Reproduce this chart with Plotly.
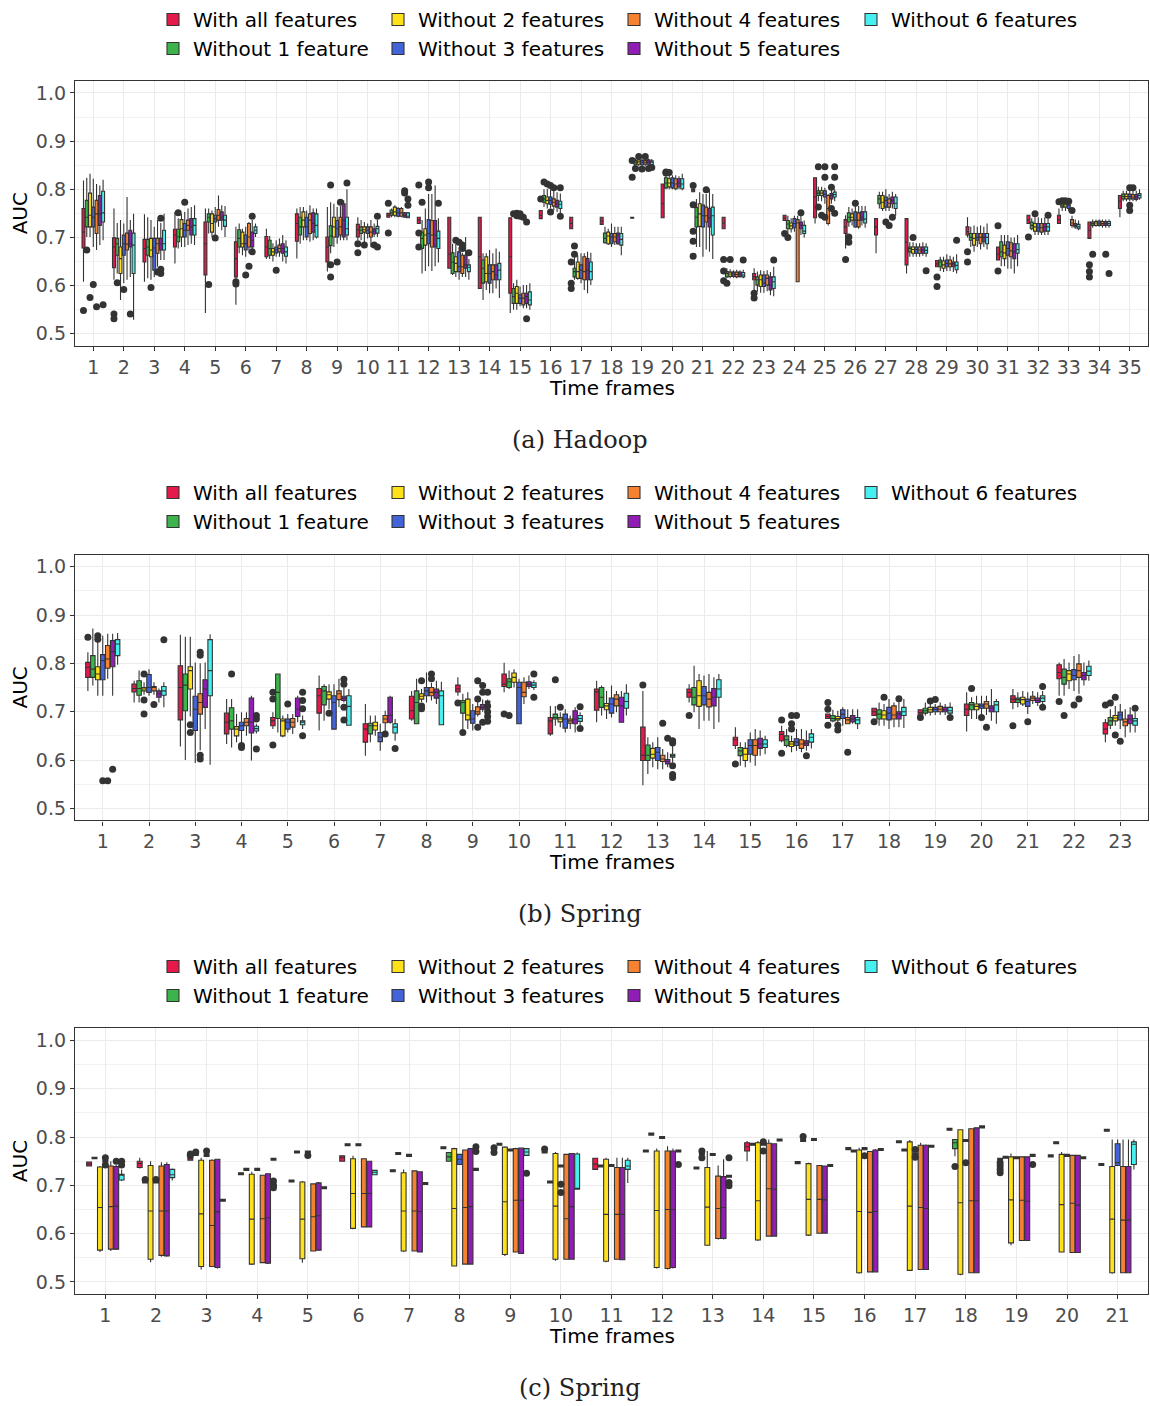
import plotly.graph_objects as go

W, H = 1150, 1406
FONT = "DejaVu Sans"
EDGE = "#333333"
GRID = "#EBEBEB"

SERIES = ["With all features", "Without 1 feature", "Without 2 features", "Without 3 features",
          "Without 4 features", "Without 5 features", "Without 6 features"]
COLORS = ["#E6194B", "#3CB44B", "#FFE119", "#4363D8", "#F58231", "#911EB4", "#46F0F0"]
# legend laid out in columns: (all, 1) (2, 3) (4, 5) (6)
LEGEND_COLUMN = [0, 0, 1, 1, 2, 2, 3]
LEGEND_TEXT_X = [193, 418, 654, 891]

Y_TICKS = [0.5, 0.6, 0.7, 0.8, 0.9, 1.0]
Y_MINOR = [0.55, 0.65, 0.75, 0.85, 0.95]

# One row per time frame, one tuple per series: (lower whisker, Q1, median, Q3, upper whisker)
HADOOP_BOXES = [
    [(.608,.678,.711,.760,.818),(.701,.722,.742,.777,.824),(.701,.722,.746,.792,.832),(.680,.722,.742,.763,.822),(.674,.708,.749,.777,.811),(.684,.725,.749,.787,.808),(.694,.732,.751,.796,.820)],
    [(.612,.637,.680,.699,.760),(.625,.663,.687,.698,.730),(.570,.625,.656,.680,.736),(.605,.663,.687,.705,.729),(.612,.674,.686,.709,.784),(.618,.680,.687,.715,.736),(.529,.625,.684,.709,.749)],
    [(.608,.649,.677,.696,.748),(.615,.663,.680,.696,.742),(.612,.660,.674,.698,.736),(.618,.632,.678,.698,.722),(.639,.667,.687,.698,.736),(.653,.674,.687,.698,.730),(.653,.674,.687,.715,.749)],
    [(.646,.680,.705,.717,.753),(.677,.691,.701,.717,.740),(.680,.701,.718,.737,.749),(.680,.701,.715,.729,.753),(.684,.715,.725,.736,.760),(.687,.705,.722,.739,.763),(.684,.705,.725,.739,.767)],
    [(.543,.622,.687,.732,.760),(.708,.732,.742,.749,.760),(.701,.711,.729,.749,.756),(.705,.732,.739,.746,.763),(.722,.736,.746,.758,.787),(.715,.736,.742,.753,.767),(.701,.723,.736,.746,.765)],
    [(.560,.618,.656,.691,.722),(.667,.680,.698,.716,.729),(.663,.680,.687,.711,.718),(.660,.674,.687,.705,.722),(.667,.680,.701,.729,.732),(.674,.680,.694,.711,.736),(.701,.708,.715,.722,.729)],
    [(.655,.660,.680,.702,.718),(.655,.663,.677,.694,.703),(.650,.663,.670,.677,.688),(.660,.668,.674,.680,.694),(.660,.670,.677,.684,.698),(.650,.667,.677,.687,.705),(.646,.661,.670,.680,.694)],
    [(.656,.692,.729,.749,.760),(.687,.705,.722,.742,.763),(.694,.722,.736,.753,.763),(.694,.701,.722,.742,.756),(.691,.708,.736,.749,.767),(.694,.711,.729,.751,.760),(.698,.701,.725,.749,.760)],
    [(.629,.649,.680,.701,.763),(.667,.683,.703,.724,.773),(.680,.701,.722,.742,.770),(.687,.701,.718,.735,.763),(.694,.705,.722,.742,.765),(.694,.701,.736,.770,.777),(.694,.705,.718,.742,.800)],
    [(.694,.701,.716,.727,.742),(.694,.708,.715,.722,.736),(.687,.711,.716,.722,.732),(.698,.708,.715,.722,.729),(.680,.701,.711,.722,.736),(.701,.707,.713,.718,.729),(.701,.709,.718,.723,.736)],
    [(.742,.742,.746,.750,.750),(.742,.746,.751,.757,.760),(.742,.746,.753,.763,.767),(.742,.744,.751,.760,.763),(.742,.744,.751,.760,.763),(.741,.742,.746,.751,.753),(.740,.741,.744,.751,.753)],
    [(.729,.729,.736,.742,.742),(.625,.677,.698,.711,.736),(.630,.684,.705,.718,.760),(.640,.687,.708,.737,.790),(.630,.680,.705,.735,.790),(.640,.680,.705,.735,.808),(.648,.677,.698,.713,.740)],
    [(.636,.636,.665,.742,.742),(.622,.625,.649,.668,.687),(.618,.629,.646,.660,.687),(.612,.629,.639,.670,.680),(.618,.625,.639,.663,.668),(.618,.636,.643,.663,.701),(.612,.629,.638,.643,.655)],
    [(.594,.594,.660,.742,.742),(.570,.605,.636,.653,.667),(.591,.608,.625,.660,.667),(.584,.605,.625,.643,.674),(.584,.612,.629,.643,.667),(.594,.612,.622,.643,.677),(.574,.612,.632,.646,.670)],
    [(.543,.584,.660,.741,.741),(.550,.563,.577,.594,.605),(.550,.563,.584,.598,.612),(.557,.563,.574,.581,.598),(.553,.560,.574,.584,.601),(.553,.563,.577,.584,.601),(.550,.560,.570,.587,.605)],
    [(.739,.739,.746,.756,.756),(.763,.773,.780,.787,.800),(.760,.770,.777,.784,.801),(.760,.769,.777,.784,.800),(.756,.765,.773,.780,.798),(.753,.763,.770,.777,.794),(.749,.760,.769,.775,.791)],
    [(.718,.718,.729,.742,.742),(.612,.618,.629,.636,.660),(.612,.615,.629,.649,.663),(.605,.615,.632,.643,.667),(.591,.612,.629,.660,.667),(.584,.612,.632,.656,.670),(.601,.612,.629,.649,.668)],
    [(.727,.727,.734,.742,.742),(.687,.689,.698,.709,.722),(.684,.687,.703,.711,.718),(.680,.687,.701,.708,.729),(.684,.691,.701,.708,.722),(.684,.687,.705,.709,.722),(.663,.684,.696,.708,.722)],
    [(.740,.740,.741,.742,.742),(.848,.851,.855,.860,.864),(.848,.852,.857,.861,.864),(.848,.851,.856,.860,.863),(.848,.852,.856,.860,.864),(.849,.852,.857,.861,.864),(.848,.851,.856,.859,.863)],
    [(.741,.741,.770,.811,.811),(.800,.803,.813,.824,.829),(.800,.805,.813,.822,.829),(.800,.803,.813,.824,.829),(.798,.801,.811,.822,.829),(.800,.805,.813,.822,.827),(.798,.801,.811,.822,.832)],
    [(.795,.795,.798,.800,.800),(.680,.722,.742,.762,.780),(.680,.723,.749,.770,.794),(.660,.722,.745,.767,.790),(.675,.732,.745,.763,.790),(.670,.722,.740,.760,.800),(.655,.705,.745,.763,.790)],
    [(.718,.718,.730,.742,.742),(.615,.618,.625,.629,.636),(.615,.619,.624,.628,.634),(.616,.619,.624,.628,.632),(.615,.618,.623,.628,.633),(.616,.619,.624,.628,.632),(.615,.618,.622,.627,.633)],
    [(.591,.612,.618,.625,.636),(.587,.601,.612,.618,.629),(.585,.598,.612,.622,.632),(.585,.598,.605,.622,.630),(.588,.601,.615,.622,.632),(.580,.591,.601,.618,.628),(.578,.594,.608,.618,.639)],
    [(.735,.735,.740,.746,.746),(.705,.718,.728,.735,.745),(.710,.718,.724,.730,.740),(.712,.720,.729,.739,.745),(.608,.608,.730,.737,.745),(.705,.718,.725,.732,.745),(.700,.708,.713,.725,.735)],
    [(.729,.741,.784,.824,.824),(.775,.787,.792,.797,.805),(.775,.787,.792,.797,.805),(.770,.784,.790,.797,.803),(.725,.729,.760,.787,.790),(.770,.780,.787,.791,.800),(.775,.784,.789,.794,.800)],
    [(.677,.708,.722,.737,.746),(.722,.732,.742,.751,.763),(.725,.736,.742,.749,.760),(.720,.722,.736,.753,.765),(.718,.722,.736,.751,.765),(.725,.736,.742,.753,.765),(.720,.730,.738,.753,.765)],
    [(.667,.705,.722,.739,.739),(.760,.770,.780,.787,.795),(.755,.760,.773,.787,.795),(.755,.763,.777,.784,.800),(.755,.763,.771,.780,.790),(.760,.770,.777,.784,.795),(.745,.760,.771,.784,.790)],
    [(.625,.643,.690,.739,.739),(.660,.670,.677,.680,.690),(.660,.667,.675,.680,.690),(.660,.667,.675,.680,.688),(.660,.667,.674,.680,.688),(.662,.667,.674,.680,.690),(.660,.667,.673,.680,.688)],
    [(.639,.639,.645,.652,.652),(.630,.639,.649,.653,.660),(.628,.636,.643,.651,.660),(.630,.639,.646,.653,.665),(.630,.639,.645,.653,.662),(.628,.639,.645,.649,.660),(.625,.633,.642,.649,.665)],
    [(.700,.705,.712,.722,.742),(.680,.694,.700,.708,.722),(.670,.684,.698,.708,.725),(.680,.694,.700,.708,.722),(.675,.687,.700,.708,.725),(.680,.691,.700,.708,.722),(.675,.687,.700,.708,.729)],
    [(.653,.653,.665,.680,.680),(.640,.660,.670,.691,.705),(.640,.656,.668,.684,.705),(.635,.663,.677,.691,.705),(.635,.660,.672,.689,.700),(.625,.656,.670,.687,.700),(.640,.667,.675,.687,.705)],
    [(.729,.729,.737,.746,.746),(.715,.718,.725,.732,.740),(.705,.713,.722,.729,.742),(.705,.713,.720,.729,.742),(.705,.711,.720,.729,.740),(.705,.713,.722,.729,.742),(.705,.713,.722,.729,.740)],
    [(.729,.729,.737,.746,.760),(.755,.763,.767,.771,.771),(.755,.763,.768,.772,.772),(.755,.760,.767,.770,.770),(.720,.725,.730,.737,.745),(.718,.722,.725,.729,.737),(.715,.718,.722,.727,.735)],
    [(.698,.698,.715,.732,.732),(.720,.725,.729,.732,.737),(.722,.725,.730,.733,.737),(.722,.725,.730,.734,.737),(.720,.725,.729,.733,.737),(.720,.725,.729,.733,.737),(.720,.725,.729,.733,.737)],
    [(.742,.760,.775,.787,.787),(.775,.780,.785,.790,.797),(.775,.780,.785,.790,.797),(.775,.780,.785,.790,.797),(.775,.780,.784,.789,.797),(.775,.779,.784,.789,.797),(.778,.782,.787,.791,.800)],
]

# Outlying runs: (time frame, series index, AUC)
HADOOP_OUTLIERS = [
    (1,0,.548),(1,1,.674),(1,2,.575),(1,3,.602),(1,4,.556),(1,6,.560),
    (2,0,.541),(2,0,.531),(2,1,.606),(2,3,.592),(2,5,.541),
    (3,2,.596),(3,4,.628),(3,5,.740),(3,5,.634),(3,5,.625),
    (4,1,.751),(4,3,.773),
    (5,1,.602),(5,3,.699),
    (6,0,.608),(6,0,.603),(6,3,.622),(6,4,.640),(6,5,.744),(6,5,.670),
    (7,3,.632),
    (9,1,.809),(9,1,.643),(9,1,.618),(9,3,.649),(9,4,.773),(9,6,.813),
    (10,0,.687),(10,0,.668),(10,2,.684),(10,5,.684),(10,6,.744),(10,6,.680),
    (11,0,.771),(11,0,.709),(11,5,.797),(11,5,.792),(11,6,.780),(11,6,.767),
    (12,0,.809),(12,0,.709),(12,0,.680),(12,1,.773),(12,3,.803),(12,3,.815),(12,6,.771),
    (13,2,.694),(13,3,.690),(13,4,.684),(13,4,.677),(13,6,.668),
    (15,1,.749),(15,2,.750),(15,2,.745),(15,3,.749),(15,3,.744),(15,4,.742),(15,5,.732),(15,5,.531),
    (16,0,.780),(16,1,.815),(16,2,.811),(16,3,.808),(16,3,.753),(16,4,.803),(16,6,.744),(16,6,.803),
    (17,0,.649),(17,0,.605),(17,0,.594),(17,1,.682),(17,1,.665),
    (19,0,.825),(19,0,.860),(19,1,.843),(19,2,.868),(19,3,.842),(19,4,.868),(19,5,.843),(19,6,.845),
    (20,1,.836),(20,1,.834),(20,2,.835),
    (21,0,.808),(21,0,.768),(21,0,.713),(21,0,.692),(21,0,.661),(21,4,.799),
    (22,0,.654),(22,0,.630),(22,0,.610),(22,1,.605),(22,2,.654),(22,6,.653),
    (23,0,.584),(23,0,.574),(23,6,.653),
    (24,0,.708),(24,1,.700),(24,5,.751),
    (25,1,.847),(25,1,.763),(25,2,.746),(25,3,.847),(25,3,.825),(25,3,.742),(25,5,.804),(25,5,.760),(25,6,.847),(25,6,.825),(25,6,.750),
    (26,0,.654),(26,1,.701),(26,1,.690),(26,3,.771),
    (27,3,.732),(27,4,.725),(27,5,.742),
    (28,2,.700),(28,6,.631),
    (29,0,.618),(29,0,.598),(29,6,.694),
    (30,0,.670),(30,0,.649),
    (31,0,.724),(31,0,.630),
    (32,0,.701),(32,2,.749),(32,6,.746),
    (33,0,.774),(33,1,.776),(33,2,.776),(33,3,.775),(33,4,.756),
    (34,0,.643),(34,0,.629),(34,0,.618),(34,1,.665),(34,5,.665),(34,6,.625),
    (35,3,.803),(35,3,.767),(35,3,.756),(35,4,.803),
]

SPRING_B_BOXES = [
    [(.743,.771,.792,.802,.823),(.754,.771,.788,.816,.872),(.733,.766,.778,.793,.845),(.733,.766,.806,.818,.857),(.768,.790,.809,.837,.861),(.733,.793,.824,.847,.861),(.797,.816,.840,.849,.863)],
    [(.719,.741,.748,.757,.764),(.719,.734,.748,.764,.785),(.735,.743,.747,.750,.761),(.733,.740,.750,.777,.788),(.735,.743,.750,.752,.761),(.719,.730,.737,.743,.748),(.709,.734,.743,.752,.761)],
    [(.628,.683,.750,.795,.859),(.600,.702,.755,.778,.855),(.690,.747,.785,.793,.855),(.594,.661,.705,.732,.802),(.620,.695,.719,.737,.800),(.664,.709,.747,.766,.802),(.590,.733,.785,.849,.860)],
    [(.633,.654,.678,.697,.726),(.626,.664,.681,.708,.726),(.637,.650,.664,.669,.695),(.633,.661,.671,.678,.699),(.650,.671,.678,.686,.699),(.599,.656,.678,.728,.733),(.655,.660,.665,.670,.675)],
    [(.664,.671,.681,.688,.699),(.657,.686,.740,.778,.778),(.647,.650,.681,.685,.692),(.657,.664,.678,.685,.695),(.654,.668,.678,.686,.695),(.678,.690,.705,.728,.733),(.664,.673,.678,.681,.692)],
    [(.661,.697,.733,.748,.775),(.681,.714,.743,.752,.757),(.705,.726,.735,.741,.757),(.664,.664,.719,.733,.757),(.709,.725,.737,.743,.768),(.719,.723,.728,.732,.750),(.671,.672,.711,.733,.747)],
    [(.609,.637,.664,.675,.716),(.637,.654,.671,.676,.692),(.650,.662,.671,.678,.692),(.619,.638,.647,.657,.675),(.657,.677,.685,.692,.702),(.675,.678,.692,.730,.733),(.640,.656,.668,.675,.685)],
    [(.681,.685,.702,.732,.743),(.675,.675,.719,.743,.768),(.720,.726,.732,.737,.747),(.719,.733,.743,.750,.781),(.723,.733,.740,.750,.760),(.716,.728,.740,.747,.764),(.673,.673,.733,.743,.762)],
    [(.733,.741,.747,.755,.771),(.664,.697,.719,.723,.737),(.664,.683,.693,.726,.740),(.661,.676,.685,.702,.716),(.690,.695,.700,.710,.720),(.700,.705,.709,.715,.725),(.715,.718,.720,.722,.725)],
    [(.740,.752,.757,.778,.801),(.747,.750,.762,.768,.785),(.750,.761,.771,.780,.788),(.675,.675,.750,.761,.768),(.716,.731,.740,.761,.771),(.747,.752,.757,.762,.775),(.745,.750,.755,.760,.765)],
    [(.650,.654,.681,.688,.712),(.671,.685,.688,.695,.712),(.668,.679,.685,.688,.699),(.657,.666,.685,.695,.705),(.664,.676,.681,.685,.692),(.657,.675,.685,.702,.709),(.672,.680,.686,.692,.699)],
    [(.678,.703,.741,.747,.764),(.692,.709,.730,.750,.754),(.685,.704,.712,.717,.743),(.688,.697,.716,.728,.754),(.699,.712,.726,.735,.743),(.678,.678,.712,.730,.743),(.692,.707,.721,.738,.757)],
    [(.548,.599,.610,.668,.743),(.571,.599,.610,.631,.647),(.585,.604,.612,.624,.637),(.581,.599,.616,.626,.647),(.581,.597,.602,.610,.623),(.585,.592,.597,.601,.616),(.595,.606,.609,.612,.630)],
    [(.719,.730,.740,.747,.757),(.699,.714,.730,.750,.795),(.664,.711,.733,.764,.778),(.681,.714,.733,.752,.775),(.681,.710,.726,.740,.778),(.664,.712,.730,.748,.771),(.678,.730,.747,.766,.778)],
    [(.623,.630,.642,.647,.668),(.588,.609,.619,.626,.637),(.585,.599,.612,.624,.637),(.595,.612,.630,.642,.657),(.588,.610,.630,.642,.664),(.609,.624,.633,.645,.661),(.612,.626,.633,.642,.650)],
    [(.637,.640,.653,.659,.671),(.626,.630,.642,.650,.664),(.616,.628,.633,.638,.650),(.619,.630,.637,.644,.664),(.616,.624,.633,.642,.664),(.619,.630,.635,.640,.661),(.624,.637,.647,.654,.664)],
    [(.686,.686,.690,.695,.695),(.678,.681,.686,.692,.704),(.678,.683,.686,.690,.702),(.671,.686,.695,.704,.709),(.675,.675,.683,.688,.705),(.675,.679,.685,.692,.705),(.664,.675,.683,.688,.705)],
    [(.692,.692,.700,.707,.707),(.671,.685,.695,.704,.719),(.671,.685,.693,.702,.716),(.664,.683,.697,.709,.726),(.668,.685,.693,.712,.719),(.668,.685,.695,.700,.723),(.666,.692,.700,.709,.726)],
    [(.692,.692,.698,.704,.704),(.692,.697,.702,.707,.719),(.692,.699,.704,.709,.716),(.693,.700,.705,.709,.716),(.693,.700,.705,.711,.719),(.693,.700,.704,.709,.716),(.695,.697,.702,.709,.719)],
    [(.659,.692,.705,.716,.740),(.685,.704,.714,.719,.730),(.685,.704,.711,.716,.733),(.692,.707,.712,.716,.733),(.693,.707,.716,.721,.733),(.681,.700,.707,.712,.747),(.675,.700,.714,.721,.726)],
    [(.705,.719,.726,.733,.747),(.709,.719,.725,.728,.740),(.712,.716,.725,.730,.743),(.695,.711,.721,.726,.740),(.716,.723,.728,.732,.743),(.712,.719,.723,.728,.740),(.716,.721,.728,.733,.743)],
    [(.733,.768,.781,.797,.802),(.733,.757,.771,.788,.809),(.747,.764,.778,.785,.802),(.743,.766,.775,.787,.815),(.737,.771,.785,.799,.819),(.754,.766,.775,.781,.802),(.764,.775,.784,.794,.806)],
    [(.637,.654,.664,.677,.685),(.664,.672,.681,.688,.705),(.671,.681,.687,.692,.712),(.664,.683,.693,.699,.716),(.647,.671,.679,.685,.705),(.657,.675,.685,.693,.709),(.657,.672,.681,.686,.700)],
]

SPRING_B_OUTLIERS = [
    (1,0,.854),(1,2,.857),(1,2,.850),(1,3,.557),(1,4,.557),(1,5,.581),
    (2,2,.778),(2,2,.724),(2,2,.695),(2,4,.715),(2,6,.849),
    (3,2,.673),(3,2,.657),(3,4,.823),(3,4,.817),(3,4,.610),(3,4,.602),
    (4,1,.778),(4,3,.626),(4,3,.630),(4,6,.692),(4,6,.685),(4,6,.623),
    (5,0,.740),(5,0,.726),(5,0,.631),(5,3,.716),(5,6,.740),(5,6,.723),(5,6,.706),(5,6,.650),
    (6,2,.697),(6,5,.767),(6,5,.757),(6,5,.709),(6,5,.683),
    (7,4,.654),(7,6,.624),
    (8,2,.764),(8,2,.712),(8,2,.706),(8,4,.778),(8,4,.768),
    (9,0,.718),(9,1,.657),(9,4,.764),(9,4,.726),(9,4,.668),(9,5,.754),(9,5,.740),(9,5,.678),
    (9,6,.740),(9,6,.712),(9,6,.700),(9,6,.690),(9,6,.680),
    (10,0,.695),(10,1,.692),(10,6,.778),(10,6,.730),
    (11,1,.766),(11,2,.709),(11,6,.710),(11,6,.665),
    (13,0,.755),(13,4,.676),(13,5,.645),(13,6,.640),(13,6,.635),(13,6,.588),(13,6,.564),(13,6,.570),
    (14,0,.692),
    (15,0,.592),
    (16,0,.683),(16,0,.614),(16,2,.692),(16,2,.675),(16,2,.664),(16,3,.692),(16,5,.609),
    (17,0,.719),(17,0,.705),(17,0,.672),(17,2,.672),(17,2,.662),(17,4,.616),
    (18,0,.679),(18,2,.730),(18,5,.727),
    (19,0,.688),(19,2,.722),(19,3,.725),(19,6,.688),
    (20,1,.748),(20,3,.688),(20,4,.668),
    (21,0,.671),(21,3,.679),(21,6,.752),(21,6,.709),
    (22,0,.721),(22,1,.692),(22,3,.714),(22,4,.726),
    (23,0,.714),(23,1,.718),(23,2,.730),(23,2,.652),(23,3,.639),(23,6,.707),
]

SPRING_C_BOXES = [
    [(.740,.740,.744,.748,.748),(.755,.755,.757,.758,.758),(.562,.566,.654,.738,.740),(.748,.748,.750,.752,.752),(.564,.568,.656,.740,.750),(.566,.568,.657,.739,.742),(.709,.711,.721,.723,.733)],
    [(.735,.737,.745,.750,.757),(.705,.705,.706,.708,.708),(.541,.547,.647,.741,.750),(.705,.705,.707,.708,.708),(.552,.555,.647,.740,.748),(.552,.554,.647,.743,.748),(.710,.716,.722,.733,.735)],
    [(.752,.752,.755,.757,.757),(.762,.762,.764,.766,.766),(.526,.532,.641,.752,.757),(.760,.760,.762,.764,.764),(.532,.532,.617,.752,.754),(.528,.530,.645,.754,.754),(.667,.667,.669,.671,.671)],
    [(.722,.722,.724,.726,.726),(.731,.731,.733,.735,.735),(.535,.537,.630,.723,.728),(.731,.731,.733,.735,.735),(.539,.540,.631,.721,.721),(.537,.539,.633,.724,.724),(.752,.752,.754,.756,.756)],
    [(.707,.707,.709,.711,.711),(.767,.767,.769,.771,.771),(.540,.548,.630,.707,.709),(.767,.767,.769,.771,.771),(.564,.564,.635,.703,.703),(.564,.566,.637,.705,.707),(.693,.693,.695,.697,.697)],
    [(.750,.750,.757,.761,.761),(.782,.782,.784,.786,.786),(.609,.611,.683,.755,.761),(.782,.782,.784,.786,.786),(.614,.614,.683,.755,.755),(.614,.614,.683,.750,.750),(.722,.722,.727,.731,.731)],
    [(.728,.728,.730,.732,.732),(.764,.764,.766,.768,.768),(.562,.564,.647,.726,.733),(.760,.760,.762,.764,.764),(.564,.564,.647,.730,.730),(.562,.562,.646,.728,.728),(.702,.702,.704,.706,.706)],
    [(.776,.776,.778,.780,.780),(.750,.750,.759,.768,.768),(.532,.533,.652,.776,.778),(.743,.743,.754,.764,.764),(.537,.537,.654,.773,.773),(.537,.537,.656,.776,.776),(.731,.731,.733,.735,.735)],
    [(.771,.771,.773,.775,.775),(.783,.783,.785,.787,.787),(.554,.557,.666,.779,.781),(.771,.771,.773,.775,.775),(.561,.562,.669,.776,.778),(.559,.559,.669,.777,.778),(.762,.762,.769,.776,.776)],
    [(.767,.767,.769,.771,.771),(.705,.705,.707,.709,.709),(.544,.547,.657,.766,.769),(.738,.738,.740,.742,.742),(.547,.547,.631,.764,.764),(.547,.547,.656,.766,.766),(.692,.692,.693,.765,.768)],
    [(.733,.733,.744,.756,.756),(.738,.738,.740,.742,.742),(.541,.543,.640,.754,.757),(.739,.739,.741,.743,.743),(.547,.547,.640,.737,.757),(.546,.546,.640,.737,.757),(.705,.733,.740,.752,.757)],
    [(.769,.769,.771,.773,.773),(.804,.804,.806,.808,.808),(.528,.530,.648,.771,.776),(.797,.797,.799,.801,.801),(.526,.528,.650,.771,.781),(.528,.530,.650,.771,.776),(.769,.769,.771,.773,.773)],
    [(.734,.734,.736,.738,.738),(.763,.763,.765,.767,.767),(.575,.576,.655,.737,.771),(.762,.762,.764,.766,.766),(.588,.590,.652,.719,.741),(.588,.590,.654,.718,.754),(.717,.717,.719,.721,.721)],
    [(.750,.771,.780,.788,.792),(.783,.783,.785,.787,.787),(.585,.587,.668,.788,.792),(.783,.783,.785,.787,.787),(.594,.595,.693,.787,.795),(.594,.595,.692,.786,.786),(.792,.792,.794,.796,.796)],
    [(.745,.745,.747,.749,.749),(.791,.791,.793,.795,.795),(.595,.597,.671,.745,.747),(.793,.793,.795,.797,.797),(.601,.601,.671,.741,.741),(.601,.601,.670,.740,.741),(.739,.739,.741,.743,.743)],
    [(.774,.774,.776,.778,.778),(.769,.769,.771,.773,.773),(.517,.519,.646,.773,.778),(.774,.774,.776,.778,.778),(.521,.521,.644,.770,.771),(.521,.521,.646,.773,.775),(.772,.772,.774,.776,.776)],
    [(.788,.788,.790,.792,.792),(.771,.771,.773,.775,.775),(.523,.524,.657,.790,.794),(.763,.763,.765,.767,.767),(.526,.526,.654,.783,.788),(.526,.526,.652,.783,.785),(.779,.779,.781,.783,.783)],
    [(.814,.814,.816,.818,.818),(.760,.776,.788,.795,.795),(.514,.516,.664,.815,.816),(.791,.791,.793,.795,.795),(.519,.519,.668,.817,.817),(.519,.519,.668,.819,.819),(.819,.819,.821,.823,.823)],
    [(.752,.752,.754,.756,.756),(.756,.756,.758,.760,.760),(.576,.581,.670,.759,.766),(.755,.755,.757,.759,.759),(.586,.586,.669,.759,.759),(.586,.586,.667,.759,.759),(.760,.760,.762,.764,.764)],
    [(.759,.759,.761,.763,.763),(.786,.786,.788,.790,.790),(.561,.562,.660,.764,.769),(.760,.760,.762,.764,.764),(.561,.561,.663,.762,.762),(.561,.561,.659,.762,.762),(.755,.755,.757,.759,.759)],
    [(.741,.741,.743,.745,.745),(.812,.812,.814,.816,.816),(.517,.519,.630,.739,.795),(.740,.741,.747,.786,.795),(.519,.519,.628,.739,.795),(.519,.519,.628,.739,.795),(.733,.743,.785,.790,.795)],
]

SPRING_C_OUTLIERS = [
    (1,3,.757),(1,3,.742),(1,5,.750),(1,6,.750),(1,6,.742),
    (2,1,.712),(2,3,.712),
    (3,0,.762),(3,0,.765),(3,1,.769),(3,3,.771),
    (4,6,.709),(4,6,.700),(4,6,.695),
    (5,3,.762),
    (8,6,.780),(8,6,.770),
    (9,0,.778),(9,0,.768),(9,6,.725),
    (10,0,.775),(10,3,.702),(10,3,.685),
    (12,6,.743),
    (13,1,.771),(13,1,.757),(13,6,.757),(13,6,.706),(13,6,.699),
    (14,3,.790),(14,3,.771),
    (15,1,.801),
    (16,3,.761),
    (17,3,.774),(17,3,.758),
    (18,1,.739),(18,3,.747),
    (19,0,.747),(19,0,.740),(19,0,.733),(19,0,.726),(19,6,.743),
]

# dodged boxes: 7 series share 0.75 of each time-frame slot
DODGE = 0.75
SLOT = DODGE / len(SERIES)
BOX_W = SLOT * 0.9

PANELS = [
    dict(boxes=HADOOP_BOXES, outliers=HADOOP_OUTLIERS, caption="(a) Hadoop", top=80, bottom=345, legend_top=-1),
    dict(boxes=SPRING_B_BOXES, outliers=SPRING_B_OUTLIERS, caption="(b) Spring", top=554, bottom=820, legend_top=473),
    dict(boxes=SPRING_C_BOXES, outliers=SPRING_C_OUTLIERS, caption="(c) Spring", top=1028, bottom=1294, legend_top=947),
]

PLOT_LEFT, PLOT_RIGHT = 75, 1148


def offset(s):
    return (s - (len(SERIES) - 1) / 2) * SLOT


def legend_id(n):
    return "legend" if n == 1 else f"legend{n}"


fig = go.Figure()
layout = {}
annotations = []

for p, panel in enumerate(PANELS):
    suf = "" if p == 0 else str(p + 1)
    xa, ya = "x" + suf, "y" + suf
    boxes = panel["boxes"]
    frames = list(range(1, len(boxes) + 1))

    for s, name in enumerate(SERIES):
        stats = [boxes[f - 1][s] for f in frames]
        fig.add_trace(go.Box(
            x=[f + offset(s) for f in frames],
            lowerfence=[st[0] for st in stats],
            q1=[st[1] for st in stats],
            median=[st[2] for st in stats],
            q3=[st[3] for st in stats],
            upperfence=[st[4] for st in stats],
            orientation="v",
            width=BOX_W,
            whiskerwidth=0,
            boxpoints=False,
            fillcolor=COLORS[s],
            line=dict(color=EDGE, width=1.1),
            name=name,
            legend=legend_id(p * 4 + LEGEND_COLUMN[s] + 1),
            showlegend=True,
            hoverinfo="skip",
            xaxis=xa, yaxis=ya,
        ))

    outs = panel["outliers"]
    fig.add_trace(go.Scatter(
        x=[f + offset(s) for f, s, v in outs],
        y=[v for f, s, v in outs],
        mode="markers",
        marker=dict(color=EDGE, size=7),
        showlegend=False,
        hoverinfo="skip",
        xaxis=xa, yaxis=ya,
    ))

    top, bottom = panel["top"], panel["bottom"]
    layout["xaxis" + suf] = dict(
        domain=[PLOT_LEFT / W, PLOT_RIGHT / W], anchor=ya,
        range=[0.4, len(frames) + 0.6],
        tickmode="array", tickvals=frames, ticktext=[str(f) for f in frames],
        showgrid=True, gridcolor=GRID, gridwidth=1.1,
        ticks="outside", ticklen=4, tickwidth=1.1, tickcolor=EDGE,
        tickfont=dict(family=FONT, size=19, color="#4D4D4D"),
        showline=True, mirror=True, linecolor=EDGE, linewidth=1.3,
        zeroline=False,
    )
    layout["yaxis" + suf] = dict(
        domain=[1 - bottom / H, 1 - top / H], anchor=xa,
        range=[0.475, 1.025],
        tickmode="array", tickvals=Y_TICKS, ticktext=[f"{t:.1f}" for t in Y_TICKS],
        showgrid=True, gridcolor=GRID, gridwidth=1.1,
        minor=dict(tickmode="array", tickvals=Y_MINOR, showgrid=True, gridcolor="#F2F2F2", gridwidth=0.6),
        ticks="outside", ticklen=4, tickwidth=1.1, tickcolor=EDGE,
        tickfont=dict(family=FONT, size=19, color="#4D4D4D"),
        showline=True, mirror=True, linecolor=EDGE, linewidth=1.3,
        zeroline=False,
    )
    for c, text_x in enumerate(LEGEND_TEXT_X):
        layout[legend_id(p * 4 + c + 1)] = dict(
            orientation="v", x=(text_x - 40) / W, xanchor="left",
            y=1 - panel["legend_top"] / H, yanchor="top",
            font=dict(family=FONT, size=20, color="black"),
            bgcolor="rgba(0,0,0,0)", traceorder="normal", tracegroupgap=0,
        )

    annotations.append(dict(
        text="AUC", x=20 / W, y=1 - (top + bottom) / 2 / H, xref="paper", yref="paper",
        textangle=-90, showarrow=False, xanchor="center", yanchor="middle",
        font=dict(family=FONT, size=20, color="black"),
    ))
    annotations.append(dict(
        text="Time frames", x=(PLOT_LEFT + PLOT_RIGHT) / 2 / W, y=1 - (bottom + 42) / H,
        xref="paper", yref="paper", showarrow=False, xanchor="center", yanchor="middle",
        font=dict(family=FONT, size=20, color="black"),
    ))
    annotations.append(dict(
        text=panel["caption"], x=580 / W, y=1 - (bottom + 94) / H,
        xref="paper", yref="paper", showarrow=False, xanchor="center", yanchor="middle",
        font=dict(family="DejaVu Serif", size=24, color="#222222"),
    ))

fig.update_layout(
    width=W, height=H,
    margin=dict(l=0, r=0, t=0, b=0),
    paper_bgcolor="white", plot_bgcolor="white",
    boxmode="overlay",
    annotations=annotations,
    **layout,
)

fig.write_html("out.html")
